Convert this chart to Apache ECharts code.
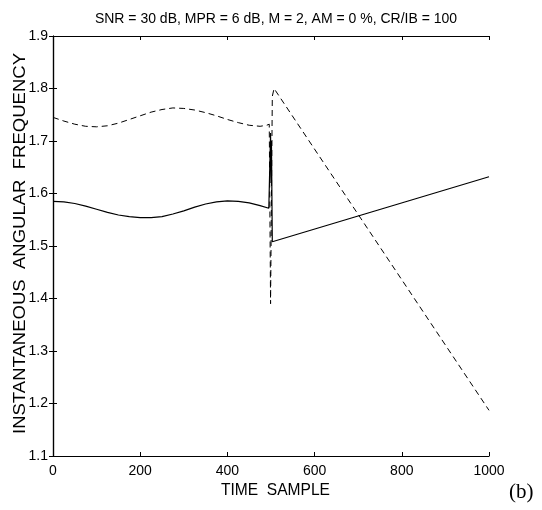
<!DOCTYPE html>
<html><head><meta charset="utf-8">
<script src="https://cdn.jsdelivr.net/npm/echarts@6/dist/echarts.min.js"></script>
<style>html,body{margin:0;padding:0;background:#fff}#c{width:542px;height:510px}</style>
</head><body><div id="c"></div>
<script>
const titleText = 'SNR = 30 dB, MPR = 6 dB, M = 2, AM = 0 %, CR/IB = 100';
const xLabel = 'TIME  SAMPLE';
const yLabel = 'INSTANTANEOUS  ANGULAR  FREQUENCY';
const xTicks = [0, 200, 400, 600, 800, 1000];
const yTicks = [1.1, 1.2, 1.3, 1.4, 1.5, 1.6, 1.7, 1.8, 1.9];

const solidX = [0,25,50,75,100,125,150,175,200,225,250,275,300,325,350,375,400,425,450,475,495,498,499,500,501,503,1000];
const solidY = [1.585,1.584,1.581,1.576,1.570,1.564,1.559,1.556,1.554,1.554,1.556,1.561,1.567,1.574,1.580,1.584,1.586,1.585,1.582,1.577,1.572,1.570,1.715,1.62,1.70,1.508,1.632];

const dashX = [0,25,50,75,100,125,150,175,200,225,250,275,300,325,350,375,400,425,450,475,490,496,499,503,507,1000];
const dashY = [1.745,1.738,1.732,1.728,1.727,1.729,1.734,1.741,1.748,1.755,1.760,1.763,1.762,1.759,1.754,1.748,1.741,1.735,1.730,1.728,1.730,1.732,1.39,1.785,1.80,1.187];

const solid = solidX.map((x,i)=>[x, solidY[i]]);
const dashed = dashX.map((x,i)=>[x, dashY[i]]);

const font = 'Liberation Sans, Arial, sans-serif';
function measure(txt, px){
  const c = document.createElement('canvas').getContext('2d');
  c.font = px + 'px "Liberation Sans", Arial, sans-serif';
  return c.measureText(txt).width;
}
const yScale = 381 / measure(yLabel, 17);
const xScale = 109 / measure(xLabel, 17);

const chart = echarts.init(document.getElementById('c'), null, {renderer:'canvas'});
const axLine = {show:true, lineStyle:{color:'#000', width:1.2}};
const tick = {show:true, inside:true, length:4, lineStyle:{color:'#000', width:1}};
chart.setOption({
  animation:false,
  backgroundColor:'#fff',
  title:{text:titleText, left:271, top:7, textAlign:'center',
    textStyle:{fontFamily:font, fontSize:14, fontWeight:'normal', color:'#000'}},
  grid:{left:53, right:53, top:36, bottom:54, containLabel:false},
  xAxis:[
    {type:'value', min:0, max:1000, interval:200, position:'bottom',
     axisLine:axLine, axisTick:tick, splitLine:{show:false},
     axisLabel:{color:'#000', fontFamily:font, fontSize:14, margin:8, formatter:v=>String(v)}},
    {type:'value', min:0, max:1000, interval:200, position:'top',
     axisLine:axLine, axisTick:tick, axisLabel:{show:false}, splitLine:{show:false}}
  ],
  yAxis:[
    {type:'value', min:1.1, max:1.9, interval:0.1, position:'left',
     axisLine:axLine, axisTick:tick, splitLine:{show:false},
     axisLabel:{color:'#000', fontFamily:font, fontSize:14, margin:5, formatter:v=>v.toFixed(1)}},
    {type:'value', min:1.1, max:1.9, interval:0.1, position:'right',
     axisLine:axLine, axisTick:tick, axisLabel:{show:false}, splitLine:{show:false}}
  ],
  graphic:[
    {type:'text', x:20, y:243.5, rotation:Math.PI/2, scaleX:yScale,
     style:{text:yLabel, font:'17px "Liberation Sans", Arial, sans-serif', fill:'#000',
            align:'center', verticalAlign:'middle'}},
    {type:'text', x:275.5, y:490, scaleX:xScale,
     style:{text:xLabel, font:'17px "Liberation Sans", Arial, sans-serif', fill:'#000',
            align:'center', verticalAlign:'middle'}},
    {type:'text', x:509, y:492,
     style:{text:'(b)', font:'21px "Liberation Serif", "Times New Roman", serif', fill:'#000',
            align:'left', verticalAlign:'middle'}}
  ],
  series:[
    {type:'line', data:solid, showSymbol:false, symbol:'none',
     lineStyle:{color:'#000', width:1.2, type:'solid'}},
    {type:'line', data:dashed, showSymbol:false, symbol:'none',
     lineStyle:{color:'#000', width:1, type:[6,4]}}
  ]
});
</script></body></html>
